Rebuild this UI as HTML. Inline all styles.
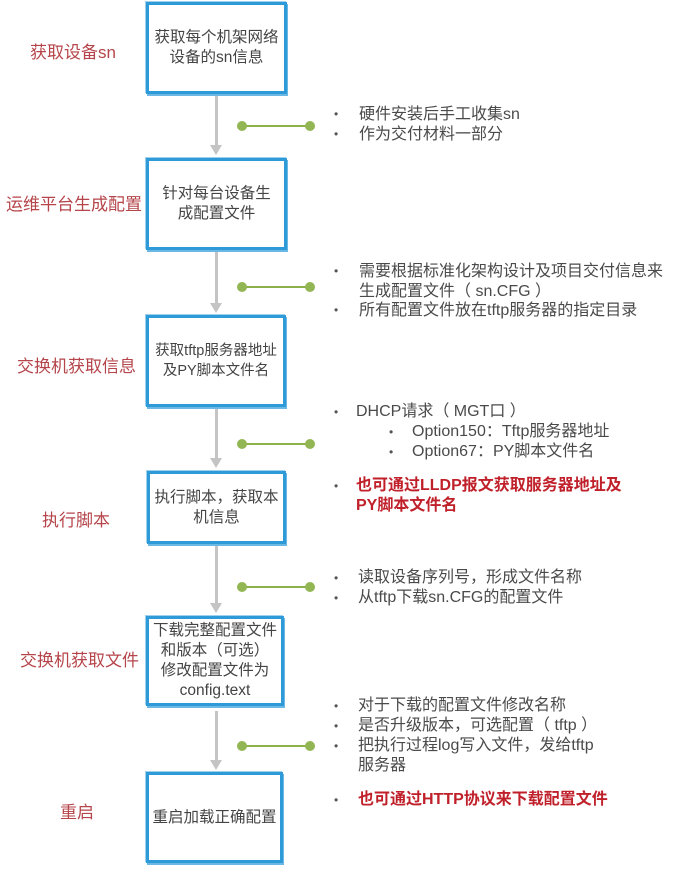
<!DOCTYPE html>
<html><head><meta charset="utf-8"><style>
body{margin:0;width:688px;height:878px;background:#fff;position:relative;overflow:hidden;font-family:"Liberation Sans","Noto Sans CJK SC",sans-serif;}
.box{position:absolute;border:3px solid #2f9ad8;box-shadow:1px 2px 0 #6bb8e4, -1px -1px 0 #9fd0ee;background:#fff;display:flex;align-items:center;justify-content:center;text-align:center;color:#444;font-size:15.5px;line-height:20px;box-sizing:border-box;padding:0;white-space:nowrap;}
.lab{position:absolute;color:#b5454a;font-size:17px;white-space:nowrap;}
.t{position:absolute;color:#4a4a4a;font-size:16px;line-height:19.5px;white-space:nowrap;}
.r{color:#c0202a;}
.b{position:absolute;color:#555;font-size:12px;}
.v{position:absolute;left:215px;width:3px;background:#c4c4c4;}
.ah{position:absolute;left:210px;width:0;height:0;border-left:6.5px solid transparent;border-right:6.5px solid transparent;border-top:10px solid #c4c4c4;}
.g{position:absolute;left:242px;width:68px;height:2px;background:#8cb04a;}
.g:before,.g:after{content:"";position:absolute;top:-4px;width:10px;height:10px;border-radius:50%;background:#92b653;}
.g:before{left:-5px}.g:after{right:-5px}
</style></head><body>
<div class="box" style="left:146px;top:2px;width:141px;height:92px;">获取每个机架网络<br>设备的sn信息</div>
<div class="box" style="left:146px;top:158px;width:141px;height:92px;">针对每台设备生<br>成配置文件</div>
<div class="box" style="left:146px;top:315px;width:140px;height:92px;font-size:14.5px;">获取tftp服务器地址<br>及PY脚本文件名</div>
<div class="box" style="left:147px;top:471px;width:139px;height:73px;">执行脚本，获取本<br>机信息</div>
<div class="box" style="left:146px;top:616px;width:138px;height:90px;">下载完整配置文件<br>和版本（可选）<br>修改配置文件为<br>config.text</div>
<div class="box" style="left:146px;top:772px;width:137px;height:91px;">重启加载正确配置</div>

<div class="v" style="top:96px;height:50px"></div><div class="ah" style="top:145px"></div>
<div class="v" style="top:252px;height:52px"></div><div class="ah" style="top:303px"></div>
<div class="v" style="top:409px;height:50px"></div><div class="ah" style="top:458px"></div>
<div class="v" style="top:546px;height:58px"></div><div class="ah" style="top:603px"></div>
<div class="v" style="top:711px;height:50px"></div><div class="ah" style="top:760px"></div>

<div class="g" style="top:125px"></div>
<div class="g" style="top:286px"></div>
<div class="g" style="top:443px"></div>
<div class="g" style="top:586px"></div>
<div class="g" style="top:745px"></div>

<div class="lab" style="left:30px;top:38px;">获取设备sn</div>
<div class="lab" style="left:6px;top:190px;">运维平台生成配置</div>
<div class="lab" style="left:17px;top:352px;">交换机获取信息</div>
<div class="lab" style="left:42px;top:506px;">执行脚本</div>
<div class="lab" style="left:20px;top:646px;">交换机获取文件</div>
<div class="lab" style="left:60px;top:798px;">重启</div>

<div class="b" style="left:334px;top:107px">•</div><div class="t" style="left:359px;top:105px">硬件安装后手工收集sn</div>
<div class="b" style="left:334px;top:127px">•</div><div class="t" style="left:359px;top:125px">作为交付材料一部分</div>

<div class="b" style="left:334px;top:264px">•</div><div class="t" style="left:359px;top:262px">需要根据标准化架构设计及项目交付信息来<br>生成配置文件（ sn.CFG ）</div>
<div class="b" style="left:334px;top:303px">•</div><div class="t" style="left:359px;top:301px">所有配置文件放在tftp服务器的指定目录</div>

<div class="b" style="left:334px;top:405px">•</div><div class="t" style="left:356px;top:402px">DHCP请求（ MGT口 ）</div>
<div class="b" style="left:389px;top:425px">•</div><div class="t" style="left:412px;top:422px">Option150：Tftp服务器地址</div>
<div class="b" style="left:389px;top:445px">•</div><div class="t" style="left:412px;top:442px">Option67：PY脚本文件名</div>
<div class="b r" style="left:334px;top:479px">•</div><div class="t r" style="left:356px;top:476px;font-weight:bold;">也可通过LLDP报文获取服务器地址及<br>PY脚本文件名</div>

<div class="b" style="left:334px;top:571px">•</div><div class="t" style="left:358px;top:568px">读取设备序列号，形成文件名称</div>
<div class="b" style="left:334px;top:591px">•</div><div class="t" style="left:358px;top:588px">从tftp下载sn.CFG的配置文件</div>

<div class="b" style="left:334px;top:699px">•</div><div class="t" style="left:358px;top:696px">对于下载的配置文件修改名称</div>
<div class="b" style="left:334px;top:719px">•</div><div class="t" style="left:358px;top:716px">是否升级版本，可选配置（ tftp ）</div>
<div class="b" style="left:334px;top:739px">•</div><div class="t" style="left:358px;top:736px">把执行过程log写入文件，发给tftp<br>服务器</div>
<div class="b r" style="left:334px;top:793px">•</div><div class="t r" style="left:358px;top:790px;font-weight:bold;">也可通过HTTP协议来下载配置文件</div>
</body></html>
